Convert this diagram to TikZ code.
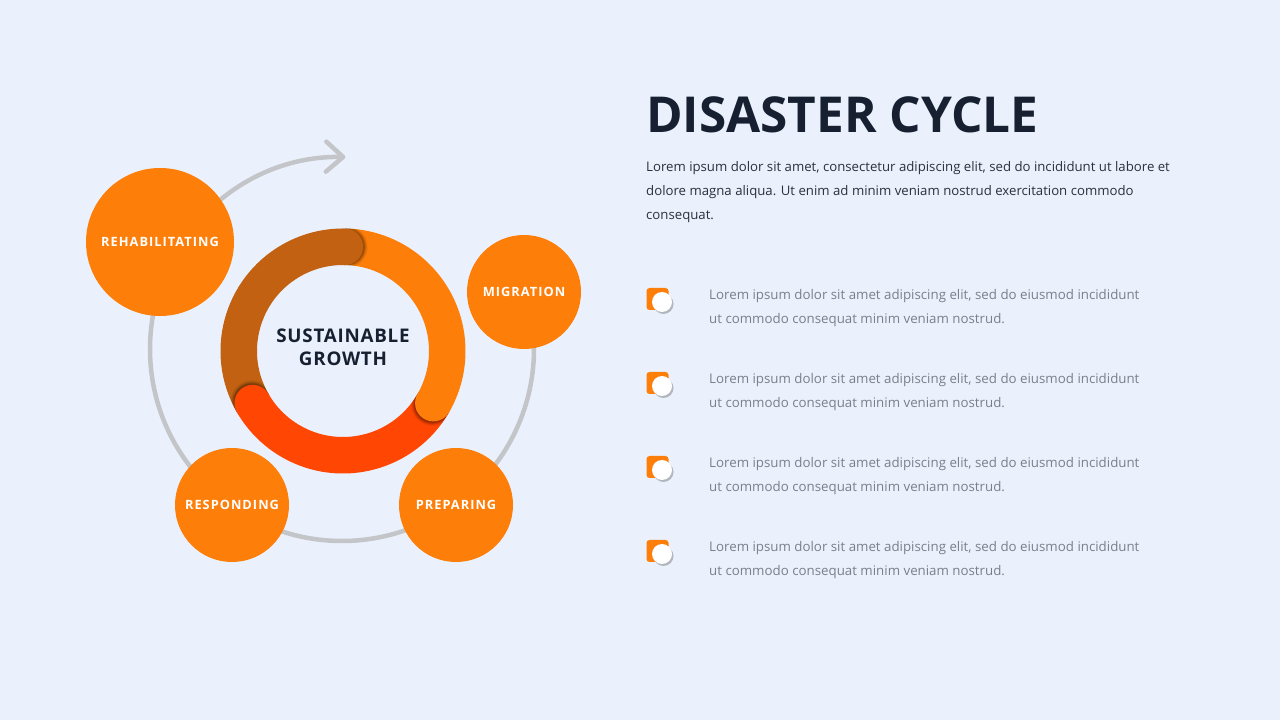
\documentclass[tikz,border=0pt]{standalone}
\usepackage{fontspec}
\setmainfont{Open Sans}
\newfontfamily\lblfont{Open Sans}[LetterSpace=8]
\newfontfamily\corefont{Open Sans}[LetterSpace=4]
\usetikzlibrary{arrows.meta,shadows}

\definecolor{pagebg}{RGB}{234,241,252}
\definecolor{stageorange}{RGB}{254,126,10}
\definecolor{ringbrown}{RGB}{193,97,17}
\definecolor{ringred}{RGB}{255,70,2}
\definecolor{cyclegray}{RGB}{196,197,201}
\definecolor{navy}{RGB}{23,32,48}
\definecolor{bodytext}{RGB}{44,48,58}
\definecolor{softtext}{RGB}{122,127,138}

\tikzset{
  stage/.style={circle,fill=stageorange,text=white,inner sep=0pt,
    font=\lblfont\bfseries\fontsize{12.8}{15}\selectfont},
  ring/.style={line width=36.5pt,line cap=butt},
  cycleline/.style={draw=cyclegray,line width=4.5pt,line cap=round},
  bulletbox/.style={fill=stageorange,rounded corners=3pt,minimum size=22pt,inner sep=0pt},
  bulletdot/.style={circle,fill=white,minimum size=20pt,inner sep=0pt,
    drop shadow={shadow xshift=1.5pt,shadow yshift=-2pt,opacity=0.35,fill=black!70}},
  itemtext/.style={anchor=west,align=left,text=softtext,inner sep=0pt,
    font=\fontsize{13.3}{24}\selectfont}
}

\begin{document}
\begin{tikzpicture}[x=1pt,y=1pt]
\useasboundingbox (0,0) rectangle (1280,720);
\fill[pagebg] (0,0) rectangle (1280,720);

% cycle arrow behind the stages
\coordinate (cyc) at (342,371);
\draw[cycleline,{Straight Barb[length=17pt,width=30pt,round]}-]
  (cyc) ++(89:192) arc[start angle=89,end angle=380,radius=192pt];

% stages
\node[stage,minimum size=148pt] (rehab)      at (160,478) {REHABILITATING};
\node[stage,minimum size=114pt] (migration)  at (524,428) {MIGRATION};
\node[stage,minimum size=114pt] (responding) at (232,215) {RESPONDING};
\node[stage,minimum size=114pt] (preparing)  at (456,215) {PREPARING};

% ring
\coordinate (hub) at (343,369);
\draw[ring,stageorange] (hub) ++(89:104.25) arc[start angle=89,end angle=-30,radius=104.25pt];
\draw[ring,ringred]     (hub) ++(-30:104.25) arc[start angle=-30,end angle=-150,radius=104.25pt];
\draw[ring,ringbrown]   (hub) ++(210:104.25) arc[start angle=210,end angle=89,radius=104.25pt];
% soft shadows ahead of the round ends
\foreach \a in {-30,210,89} {
  \begin{scope}[even odd rule]
    \clip (hub) circle (122.5pt) (hub) circle (86pt);
    \clip (hub) -- +(\a:200) -- +(\a-70:200) -- cycle;
    \foreach \r/\o in {18.5/0.18,19.5/0.12,20.5/0.08,21.5/0.05}
      \fill[black,opacity=\o] (hub) ++(\a:104.25) ++(\a-90:1.5) circle (\r pt);
  \end{scope}
}
\fill[stageorange] (hub) ++(-30:104.25) circle (18.25pt);
\fill[ringred]     (hub) ++(210:104.25) circle (18.25pt);
\fill[ringbrown]   (hub) ++(89:104.25) circle (18.25pt);
\node[align=center,text=navy,font=\corefont\bfseries\fontsize{18.8}{23}\selectfont] (core)
  at (343,372.5) {SUSTAINABLE\\GROWTH};

% heading
\node[anchor=base west,inner sep=0pt,text=navy,font=\bfseries\fontsize{49.5}{60}\selectfont]
  (title) at (646,587) {DISASTER CYCLE};
\node[anchor=west,align=left,inner sep=0pt,text=bodytext,font=\fontsize{13.2}{24}\selectfont]
  (intro) at (646,528) {Lorem ipsum dolor sit amet, consectetur adipiscing elit, sed do incididunt ut labore et\\
  dolore magna aliqua. Ut enim ad minim veniam nostrud exercitation commodo\\
  consequat.};

% items
\foreach \i/\y in {1/421,2/337,3/253,4/169} {
  \node[bulletbox] (box\i) at (657.5,\y) {};
  \node[bulletdot] (dot\i) at (662,\y-3) {};
  \node[itemtext] (item\i) at (709,\y-9) {Lorem ipsum dolor sit amet adipiscing elit, sed do eiusmod incididunt\\
    ut commodo consequat minim veniam nostrud.};
}
\end{tikzpicture}
\end{document}
